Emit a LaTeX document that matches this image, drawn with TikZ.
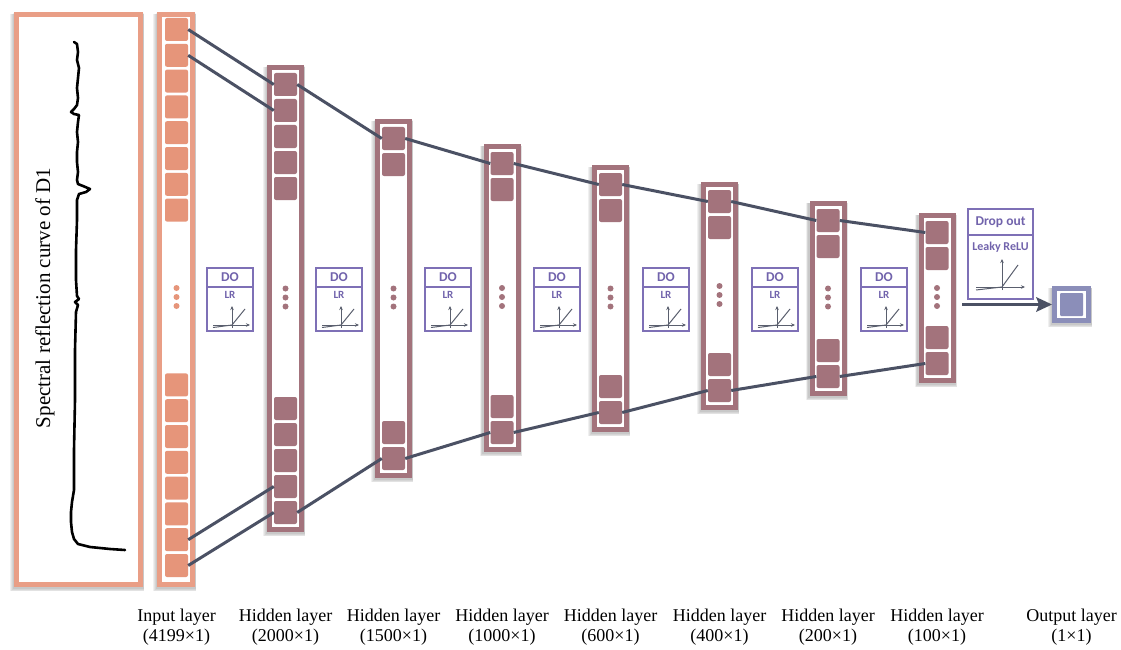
\documentclass[tikz,border=0pt]{standalone}
\usepackage{fontspec}
\setmainfont{Liberation Serif}
\newfontfamily\labfont{Carlito}
\usetikzlibrary{arrows.meta}
\definecolor{orng}{HTML}{E6957A}
\definecolor{orngb}{HTML}{E99E86}
\definecolor{mauve}{HTML}{A3737C}
\definecolor{connc}{HTML}{4B5164}
\definecolor{purp}{HTML}{7E70B6}
\definecolor{purptxt}{HTML}{7163AC}
\definecolor{lav}{HTML}{8B8EB9}
\definecolor{axisc}{HTML}{5A5F6E}
\tikzset{
  incell/.style={rectangle, rounded corners=2pt, fill=orng, minimum width=23pt, minimum height=23pt, inner sep=0pt},
  hcell/.style={rectangle, rounded corners=2pt, fill=mauve, minimum width=23pt, minimum height=23pt, inner sep=0pt},
  conn/.style={draw=connc, line width=3pt},
  colbox/.style={line width=5pt, fill=white},
  actbox/.style={draw=purp, line width=1.2pt, fill=white},
  axisarrow/.style={draw=axisc, line width=0.8pt, -{Stealth[length=4pt,width=3.5pt]}},
  leaky/.style={draw=axisc, line width=1pt},
  lbl/.style={align=center, font=\fontsize{18}{20}\selectfont, inner sep=0pt},
  dotext/.style={text=purptxt, font=\labfont\bfseries\fontsize{13.5}{13.5}\selectfont, inner sep=0pt},
  lrtext/.style={text=purptxt, font=\labfont\bfseries\fontsize{11}{11}\selectfont, inner sep=0pt},
}
\newcommand{\shadowrect}[4]{%
  \foreach \d in {0,1,2,3}{%
    \fill[black, opacity=0.06] ({#1-1.5-\d*0.7},{#2+1.5+\d*0.3}) rectangle ({#3+0.5+\d*0.3},{#4+2+\d*0.8});
  }}
\newcommand{\hlayer}[5]{%
  \shadowrect{#2-18.5}{#3}{#2+18.5}{#4}
  \draw[colbox, draw=mauve] ({#2-16},{#3+2.5}) rectangle ({#2+16},{#4-2.5});
  \foreach \i in {1,...,#5}{%
    \node[hcell, name=#1t\i] at ({#2},{#3+19.5+26*(\i-1)}) {};
    \node[hcell, name=#1b\i] at ({#2},{#4-19.5-26*(#5-\i)}) {};
  }
  \foreach \k in {-1,0,1}{\fill[mauve] ({#2},{(#3+#4)/2-1+9*\k}) circle (3pt);}
}
\newcommand{\dobox}[2]{%
  \draw[actbox] ({#2-23},268) rectangle ({#2+23},331);
  \draw[draw=purp, line width=1.2pt] ({#2-23},287) -- ({#2+23},287);
  \node[dotext] (#1do) at ({#2},277.5) {DO};
  \node[lrtext] (#1lr) at ({#2},294.5) {LR};
  \draw[axisarrow] ({#2+2},327.5) -- ({#2+2},306);
  \draw[axisarrow] ({#2-17},325) -- ({#2+20},325);
  \draw[leaky] ({#2-17},327.5) -- ({#2+2},325) -- ({#2+15},309);
}
\begin{document}
\begin{tikzpicture}[x=1pt, y=-1pt]
\useasboundingbox (0,0) rectangle (1121,650);
% spectral box
\shadowrect{14}{12}{143}{587}
\draw[colbox, draw=orngb] (16.5,14.5) rectangle (140.5,584.5);
\node[rotate=90, font=\fontsize{21}{21}\selectfont, inner sep=0pt] (spec) at (45,298) {Spectral reflection curve of D1};
\draw[black, line width=2.6pt, line join=round, line cap=round]
  (74,42) -- (77,44) -- (78,52) -- (77,60) -- (79,68) -- (78,78) -- (77,88) -- (78,98) -- (77,105)
  -- (74,109) -- (71,112) -- (74,114) -- (79,115) -- (78,122) -- (77,132) -- (78,142) -- (77,152)
  -- (77,162) -- (78,172) -- (77,180) -- (78,184) -- (83,186) -- (90,189) -- (86,192) -- (79,194)
  -- (77,200) -- (77,220) -- (76,250) -- (76,280) -- (77,296) -- (79,299) -- (75,302) -- (78,305)
  -- (76,312) -- (75,350) -- (75,400) -- (74,450) -- (74,490) -- (72,502) -- (71,512) -- (71,522)
  -- (72,532) -- (74,539) -- (78,544) -- (90,547) -- (110,549) -- (125,550);
% input layer
\shadowrect{157}{12}{195}{587}
\draw[colbox, draw=orngb] (159.5,14.5) rectangle (192.5,584.5);
\foreach \i in {1,...,8}{%
  \node[incell, name=int\i] at (176.5,{29.5+25.8*(\i-1)}) {};
  \node[incell, name=inb\i] at (176.5,{565.5-25.8*(8-\i)}) {};
}
\foreach \k in {-1,0,1}{\fill[orng] (176.5,{297+9*\k}) circle (3pt);}
% hidden layers
\hlayer{h1}{285.5}{65}{532}{5}
\hlayer{h2}{393.5}{119}{478}{2}
\hlayer{h3}{502}{144}{452}{2}
\hlayer{h4}{610.5}{165}{432}{2}
\hlayer{h5}{719.5}{182}{410}{2}
\hlayer{h6}{828}{201}{396}{2}
\hlayer{h7}{937}{213}{383}{2}
% connectors
\draw[conn] (int1.east) -- (h1t1.west);
\draw[conn] (int2.east) -- (h1t2.west);
\draw[conn] (inb7.east) -- (h1b4.west);
\draw[conn] (inb8.east) -- (h1b5.west);
\draw[conn] (h1t1.east) -- (h2t1.west);
\draw[conn] (h2t1.east) -- (h3t1.west);
\draw[conn] (h3t1.east) -- (h4t1.west);
\draw[conn] (h4t1.east) -- (h5t1.west);
\draw[conn] (h5t1.east) -- (h6t1.west);
\draw[conn] (h6t1.east) -- (h7t1.west);
\draw[conn] (h1b5.east) -- (h2b2.west);
\draw[conn] (h2b2.east) -- (h3b2.west);
\draw[conn] (h3b2.east) -- (h4b2.west);
\draw[conn] (h4b2.east) -- (h5b2.west);
\draw[conn] (h5b2.east) -- (h6b2.west);
\draw[conn] (h6b2.east) -- (h7b2.west);
% DO / LR boxes
\dobox{a}{230}
\dobox{b}{339}
\dobox{c}{448}
\dobox{d}{557}
\dobox{e}{666}
\dobox{f}{775}
\dobox{g}{884}
% Drop out box
\draw[actbox] (968,209) rectangle (1033,299);
\draw[draw=purp, line width=1.2pt] (968,235) -- (1033,235);
\node[dotext, font=\labfont\bfseries\fontsize{13.5}{13.5}\selectfont] (dropout) at (1000.5,222) {Drop out};
\node[lrtext, font=\labfont\bfseries\fontsize{12}{12}\selectfont] (leakyrelu) at (1000.5,247) {Leaky ReLU};
\draw[axisarrow] (1002,290) -- (1002,259);
\draw[axisarrow] (976,287) -- (1025,287);
\draw[leaky] (976,290) -- (1002,287) -- (1018,265);
% output
\shadowrect{1052}{286}{1091}{323}
\node[draw=lav, line width=5pt, fill=white, minimum width=34pt, minimum height=32pt, inner sep=0pt] (outbox) at (1071.5,304.5) {};
\node[rectangle, rounded corners=1pt, fill=lav, minimum width=23pt, minimum height=23pt, inner sep=0pt] (outcell) at (1071.5,304.5) {};
\coordinate (arrstart) at (962,304.5);
\draw[conn] (arrstart) -- ([xshift=-10pt]outbox.west);
\fill[connc] (outbox.west) -- ([xshift=-16pt,yshift=7.5pt]outbox.west) -- ([xshift=-13pt]outbox.west) -- ([xshift=-16pt,yshift=-7.5pt]outbox.west) -- cycle;
% labels
\node[lbl] (l0) at (176.5,627.5) {Input layer\\(4199×1)};
\node[lbl] (l1) at (285.5,627.5) {Hidden layer\\(2000×1)};
\node[lbl] (l2) at (393.5,627.5) {Hidden layer\\(1500×1)};
\node[lbl] (l3) at (502,627.5) {Hidden layer\\(1000×1)};
\node[lbl] (l4) at (610.5,627.5) {Hidden layer\\(600×1)};
\node[lbl] (l5) at (719.5,627.5) {Hidden layer\\(400×1)};
\node[lbl] (l6) at (828,627.5) {Hidden layer\\(200×1)};
\node[lbl] (l7) at (937,627.5) {Hidden layer\\(100×1)};
\node[lbl] (l8) at (1071.5,627.5) {Output layer\\(1×1)};
\end{tikzpicture}
\end{document}
